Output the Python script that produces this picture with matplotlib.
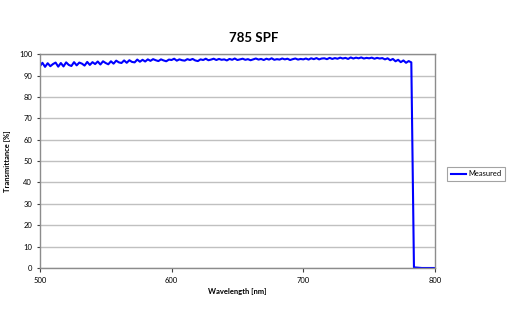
import numpy as np
import matplotlib
matplotlib.use("Agg")
import matplotlib.pyplot as plt

# measured transmittance, 2 nm steps from 500 nm to 780 nm
trans_main = [
    94.3, 96.0, 94.1, 95.8, 94.4, 95.4, 96.1, 94.2, 95.9, 94.3, 96.2, 95.0, 94.5, 96.3, 94.8, 96.1, 95.6, 94.7, 96.4, 95.0, 96.3,
    95.4, 96.6, 95.2, 96.7, 95.9, 95.3, 96.7, 95.6, 97.0, 96.2, 95.9, 97.1, 96.0, 97.2, 96.4, 96.2, 97.5, 96.5, 97.4, 96.6,
    97.6, 96.9, 97.7, 97.2, 96.8, 97.6, 97.1, 96.7, 97.5, 97.3, 97.9, 97.0, 97.6, 97.2, 97.0, 97.7, 97.3, 97.8, 97.1, 96.8,
    97.6, 97.3, 97.9, 97.2, 97.5, 97.9, 97.3, 97.8, 97.4, 97.6, 97.1, 97.8, 97.4, 98.0, 97.3, 97.6, 97.9, 97.4, 97.7, 97.2,
    97.6, 98.0, 97.5, 97.8, 97.3, 97.9, 97.5, 98.1, 97.4, 97.7, 97.5, 98.0, 97.6, 97.9, 97.3, 97.7, 98.0, 97.5, 97.8, 97.6,
    98.0, 97.5, 98.1, 97.7, 98.2, 97.6, 98.0, 98.1, 97.7, 98.3, 97.8, 98.2, 97.9, 98.4, 98.0, 98.3, 97.8, 98.5, 98.0, 98.4,
    98.1, 98.5, 98.0, 98.3, 98.1, 98.4, 97.9, 98.3, 98.0, 98.2, 97.6, 98.1, 97.2, 97.8, 96.7, 97.4, 96.3, 97.1, 96.0, 96.8,
]
wl_main = list(500 + 2 * np.arange(len(trans_main)))

# cut-off edge and blocked region
wl_edge = [782, 783, 784, 790, 800]
trans_edge = [96.2, 48.0, 0.3, 0.0, 0.0]

wavelength = wl_main + wl_edge
transmittance = trans_main + trans_edge

plt.rcParams['font.family'] = ['Lato', 'DejaVu Sans']

fig = plt.figure(figsize=(5.1, 3.2), dpi=100)
ax = fig.add_axes([0.078, 0.1625, 0.775, 0.668])

ax.plot(wavelength, transmittance, color='#0000ff', linewidth=1.5, label='Measured')

ax.set_xlim(500, 800)
ax.set_ylim(0, 100)
ax.set_xticks([500, 600, 700, 800])
ax.set_yticks(np.arange(0, 101, 10))
ax.yaxis.grid(True, color='#c0c0c0', linewidth=1)
ax.set_axisbelow(True)
for s in ax.spines.values():
    s.set_color('#8c8c8c')
    s.set_linewidth(1)
ax.tick_params(axis='both', labelsize=5.5, colors='#404040', length=3, width=0.8, direction='out')
ax.tick_params(axis='y', length=2)
for lbl in ax.get_xticklabels() + ax.get_yticklabels():
    lbl.set_color('black')

ax.set_xlabel('Wavelength [nm]', fontsize=5.5, fontweight='bold', labelpad=3)
ax.set_ylabel('Transmittance [%]', fontsize=5.5, fontweight='bold', labelpad=6)
fig.text(0.497, 0.88, '785 SPF', fontsize=9.5, fontweight='bold', ha='center', va='center')

leg = fig.legend(loc='center left', bbox_to_anchor=(0.877, 0.457), fontsize=5.4,
                 frameon=True, fancybox=False, handlelength=2.0, handletextpad=0.3,
                 borderpad=0.5, borderaxespad=0)
leg.get_frame().set_edgecolor('#8c8c8c')
leg.get_frame().set_linewidth(0.8)

fig.savefig('out.png', dpi=100)
